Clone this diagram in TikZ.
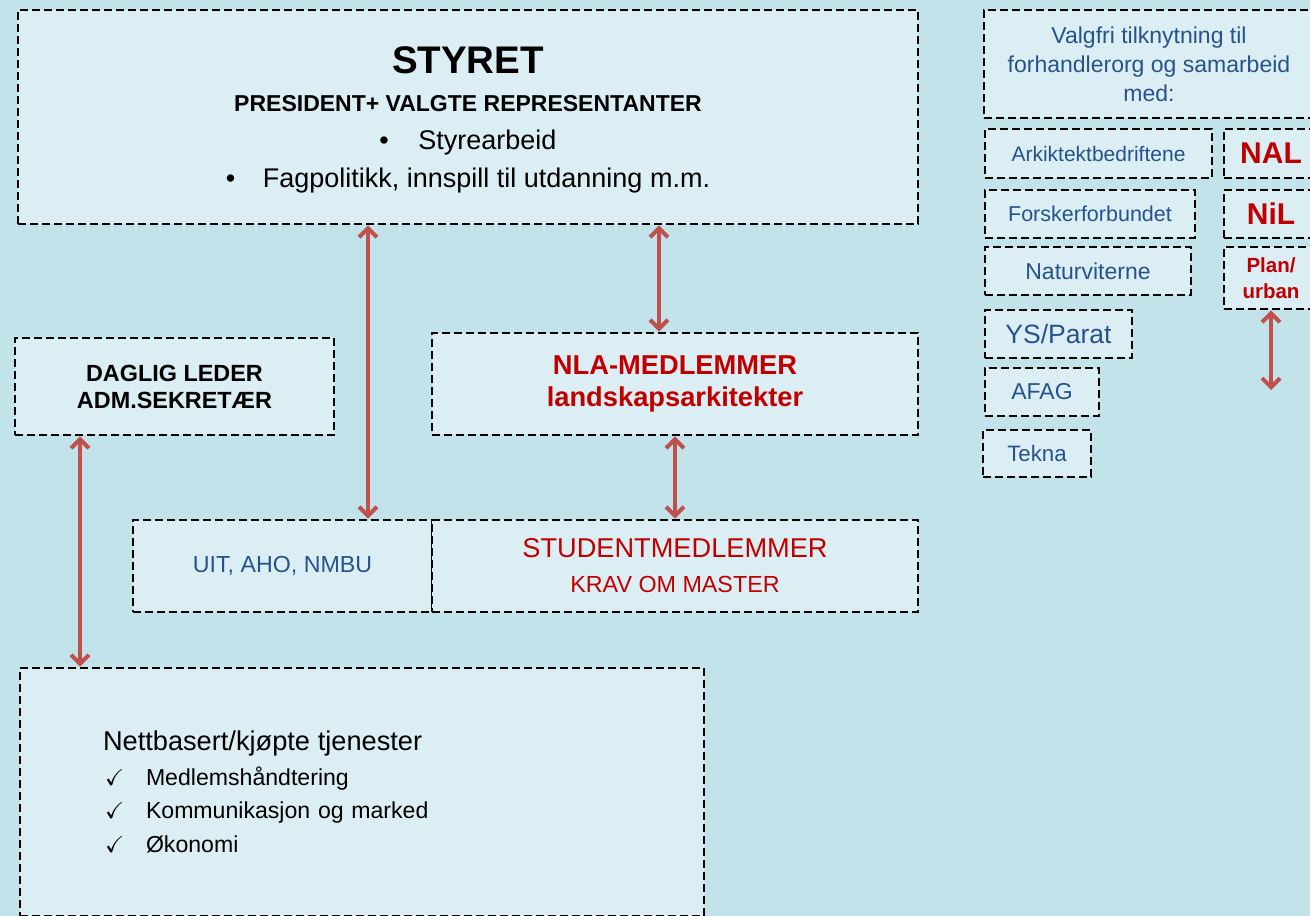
\documentclass[tikz,border=0pt]{standalone}
\usepackage{fontspec}
\setmainfont{Liberation Sans}
\usepackage{amssymb}
\usetikzlibrary{arrows.meta}

\definecolor{bgblue}{HTML}{C3E3EA}
\definecolor{boxfill}{HTML}{DBEEF3}
\definecolor{orgblue}{HTML}{28528C}
\definecolor{nlared}{HTML}{C00000}
\definecolor{linkred}{HTML}{C0504D}

\newcommand{\fsz}[2]{\fontsize{#1}{#2}\selectfont}
\newcommand{\chk}{\makebox[43pt][l]{\hspace{2pt}$\checkmark$}}

\tikzset{
	dbox/.style={draw=black, line width=2.8pt, dash pattern=on 8pt off 4pt,
		fill=boxfill, inner sep=0pt, align=center},
	link/.style={draw=linkred, line width=4pt,
		{Straight Barb[length=9pt,width=18pt]}-{Straight Barb[length=9pt,width=18pt]}},
}

\begin{document}
\begin{tikzpicture}[x=1pt,y=-1pt]
			%background
			\fill[bgblue] (0,0) rectangle (1310,916);
			\clip (0,0) rectangle (1310,916);
			
			%board
			\node[dbox, minimum width=900pt, minimum height=214pt, font=\fsz{27}{38}] (styret) at (468,117)
				{\rule{0pt}{32pt}\fsz{38.5}{38}\bfseries STYRET\\
				 \fsz{23}{38}\bfseries PRESIDENT+ VALGTE REPRESENTANTER\\
				 \makebox[39pt][l]{\textbullet}Styrearbeid\\
				 \makebox[37pt][l]{\textbullet}Fagpolitikk, innspill til utdanning m.m.};
			
			%administration and members
			\node[dbox, minimum width=319pt, minimum height=97pt, font=\fsz{23.4}{27}\bfseries] (leder) at (174.5,386.5)
				{DAGLIG LEDER\\ ADM.SEKRETÆR};
			\node[dbox, minimum width=486pt, minimum height=102pt, text=nlared, font=\fsz{27.3}{32}\bfseries] (nla) at (675,384)
				{NLA-MEDLEMMER\\ landskapsarkitekter};
			\node[dbox, minimum width=299pt, minimum height=92pt, text=orgblue, font=\fsz{23.2}{26}] (uit) at (282.5,566)
				{UIT, AHO, NMBU};
			\node[dbox, minimum width=486pt, minimum height=92pt, text=nlared, font=\fsz{23.3}{35}] (student) at (675,566)
				{\fsz{27.2}{35}STUDENTMEDLEMMER\\ KRAV OM MASTER};
			\node[dbox, minimum width=684pt, minimum height=248pt, text width=518pt, align=left, font=\fsz{23.1}{33.5}] (nett) at (362,792)
				{{\fsz{27.2}{35}Nettbasert/kjøpte tjenester}\\[1pt]
				 \chk Medlemshåndtering\\
				 \chk Kommunikasjon og marked\\
				 \chk Økonomi};
			
			%optional affiliations
			\node[dbox, minimum width=330pt, minimum height=108pt, text=orgblue, font=\fsz{23}{29}] (valgfri) at (1149,64)
				{Valgfri tilknytning til\\ forhandlerorg og samarbeid\\ med:};
			\node[dbox, minimum width=227pt, minimum height=49pt, text=orgblue, font=\fsz{21}{24}] (ark) at (1098.5,153.5)
				{Arkiktektbedriftene};
			\node[dbox, minimum width=210pt, minimum height=48pt, text=orgblue, font=\fsz{21.5}{24}] (forsker) at (1090,214)
				{Forskerforbundet};
			\node[dbox, minimum width=206pt, minimum height=48pt, text=orgblue, font=\fsz{23}{26}] (natur) at (1088,271)
				{Naturviterne};
			\node[dbox, minimum width=147pt, minimum height=48pt, text=orgblue, font=\fsz{26.5}{30}] (ys) at (1058.5,334)
				{YS/Parat};
			\node[dbox, minimum width=114pt, minimum height=48pt, text=orgblue, font=\fsz{23}{26}] (afag) at (1042,392)
				{AFAG};
			\node[dbox, minimum width=108pt, minimum height=47pt, text=orgblue, font=\fsz{22.3}{26}] (tekna) at (1037,453.5)
				{Tekna};
			\node[dbox, minimum width=94pt, minimum height=49pt, text=nlared, font=\fsz{30}{32}\bfseries] (nal) at (1271,153.5)
				{NAL};
			\node[dbox, minimum width=94pt, minimum height=48pt, text=nlared, font=\fsz{30}{32}\bfseries] (nil) at (1271,214)
				{NiL};
			\node[dbox, minimum width=94pt, minimum height=62pt, text=nlared, font=\fsz{20.5}{26}\bfseries] (plan) at (1271,278)
				{Plan/\\ urban};
			
			%links
			\coordinate (x1) at (368,0);
			\coordinate (x2) at (659,0);
			\coordinate (x3) at (675,0);
			\coordinate (x4) at (80,0);
			\coordinate (planend) at (1271,390);
			\draw[link] (styret.south -| x1) -- (uit.north -| x1);
			\draw[link] (styret.south -| x2) -- (nla.north -| x2);
			\draw[link] (nla.south -| x3) -- (student.north -| x3);
			\draw[link] (leder.south -| x4) -- (nett.north -| x4);
			\draw[link] (plan.south) -- (planend);
		\end{tikzpicture}
\end{document}
